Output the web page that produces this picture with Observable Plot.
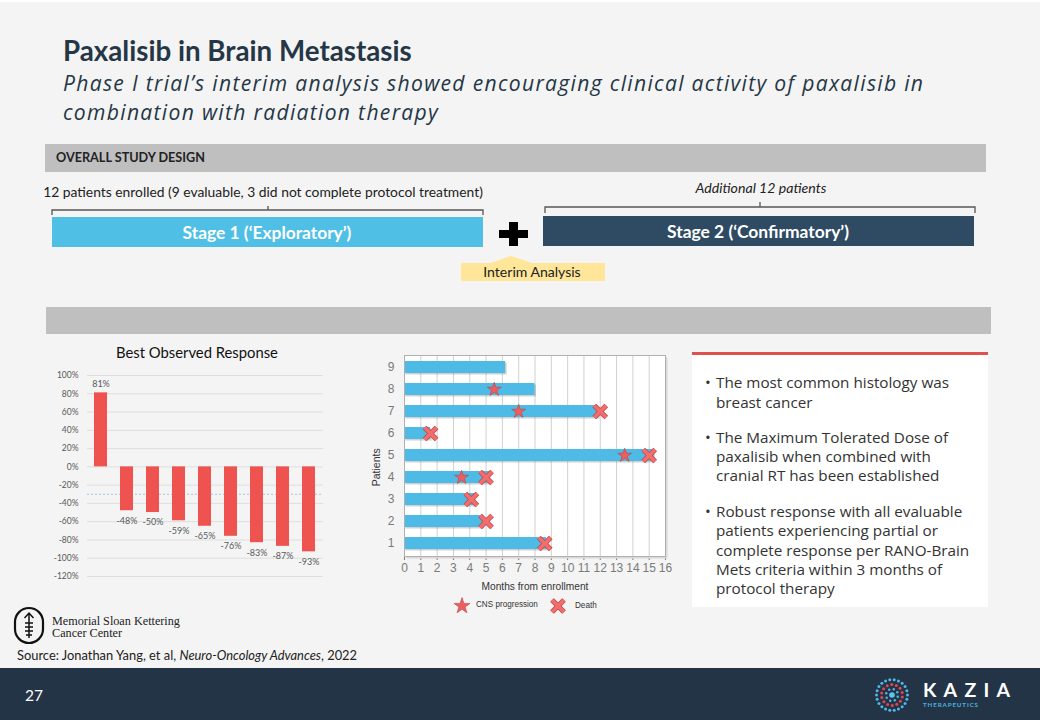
<!DOCTYPE html>
<html><head><meta charset="utf-8">
<script src="https://cdn.jsdelivr.net/npm/d3@7"></script>
<script src="https://cdn.jsdelivr.net/npm/@observablehq/plot@0.6"></script>
<style>
html,body{margin:0;padding:0;}
#slide{position:relative;width:1040px;height:720px;background:#f4f4f4;overflow:hidden;font-family:Lato,sans-serif;}
.t{position:absolute;white-space:nowrap;line-height:1;top:0;left:0;}
.layer{position:absolute;left:0;top:0;}
.chart{position:absolute;}
</style></head>
<body><div id="slide"></div>
<script>
// ---------- data ----------
const responsePatients = ["P1","P2","P3","P4","P5","P6","P7","P8","P9"];
const bestResponse = [81, -48, -50, -59, -65, -76, -83, -87, -93];
const responseTicks = [100, 80, 60, 40, 20, 0, -20, -40, -60, -80, -100, -120];
const thresholdLine = [-30];

const swimPatients = [9, 8, 7, 6, 5, 4, 3, 2, 1];
const monthsOnStudy = [6.2, 8.0, 11.9, 1.6, 15.3, 5.2, 4.3, 4.8, 8.7];
const cnsPatients = [8, 7, 5, 4];
const cnsMonths = [5.5, 7.0, 13.5, 3.5];
const deathPatients = [7, 6, 5, 4, 3, 2, 1];
const deathMonths = [12.0, 1.6, 15.0, 5.0, 4.1, 5.0, 8.6];
const monthTicks = [0,1,2,3,4,5,6,7,8,9,10,11,12,13,14,15,16];

// ---------- helpers ----------
const root = document.getElementById("slide");
const ctx = document.createElement("canvas").getContext("2d");
function fit(text, style, family, target){
  ctx.font = `${style} 100px ${family}`;
  return 100 * target / ctx.measureText(text).width;
}
function natural(text, style, size, family){
  ctx.font = `${style} ${size}px ${family}`;
  return ctx.measureText(text).width;
}
function addText(txt, o){
  const d = document.createElement("div");
  d.className = "t";
  if (o.html) d.innerHTML = txt; else d.textContent = txt;
  d.style.fontFamily = o.family || "Lato";
  d.style.fontSize = o.size + "px";
  d.style.fontWeight = o.weight || "normal";
  d.style.fontStyle = o.style || "normal";
  d.style.color = o.color || "#333";
  if (o.ls) d.style.letterSpacing = o.ls + "px";
  if (o.lh) d.style.lineHeight = o.lh + "px";
  root.appendChild(d);
  const r = d.getBoundingClientRect();
  const w = r.width - (o.ls || 0), h = r.height;
  let left = o.x;
  if (o.anchor === "middle") left = o.x - w/2;
  if (o.anchor === "end") left = o.x - w;
  if (o.rotate){
    d.style.left = (o.x - r.width/2) + "px";
    d.style.top = (o.y - h/2) + "px";
    d.style.transform = `rotate(${o.rotate}deg)`;
    return d;
  }
  d.style.left = left + "px";
  d.style.top = (o.top != null ? o.top : (o.y - (o.cy ?? 0.527) * o.size)) + "px";
  return d;
}

// ---------- decorative layer ----------
const svg = d3.select(root).append("svg").attr("class","layer").attr("width",1040).attr("height",720);
svg.append("rect").attr("x",0).attr("y",0).attr("width",1040).attr("height",2).attr("fill","#fff");
svg.append("rect").attr("x",45).attr("y",144).attr("width",941).attr("height",28).attr("fill","#bfbfbf");
svg.append("rect").attr("x",46).attr("y",307).attr("width",945).attr("height",27).attr("fill","#bfbfbf");
// brackets
svg.append("path").attr("d","M52,215V210H483V215M268,210V206").attr("fill","none").attr("stroke","#555").attr("stroke-width",1.3);
svg.append("path").attr("d","M545,213V207H975V213M760,207V202").attr("fill","none").attr("stroke","#555").attr("stroke-width",1.3);
// stage bars
svg.append("rect").attr("x",52).attr("y",217).attr("width",431).attr("height",30).attr("fill","#50bfe6");
svg.append("rect").attr("x",543).attr("y",216).attr("width",431).attr("height",30).attr("fill","#2f4b63");
// plus
svg.append("rect").attr("x",499).attr("y",230).attr("width",29).attr("height",8).attr("fill","#000");
svg.append("rect").attr("x",509).attr("y",222).attr("width",9).attr("height",24).attr("fill","#000");
// callout
svg.append("path").attr("d","M461,263H490L511,256L532,263H605V281H461Z").attr("fill","#ffe699");
// right panel
svg.append("rect").attr("x",692).attr("y",354).attr("width",296).attr("height",253).attr("fill","#fff");
svg.append("rect").attr("x",692).attr("y",352).attr("width",296).attr("height",3).attr("fill","#e0504c");
// footer
svg.append("rect").attr("x",0).attr("y",668).attr("width",1040).attr("height",52).attr("fill","#243447");
// MSK icon
svg.append("rect").attr("x",15).attr("y",608).attr("width",28).attr("height",35).attr("rx",14).attr("fill","none").attr("stroke","#111").attr("stroke-width",2.2);
svg.append("path").attr("d","M29,613V638M24.5,618L29,613L33.5,618M25,623H33M25,627H33M25,631H33M26,635H32").attr("fill","none").attr("stroke","#111").attr("stroke-width",1.5);
// Kazia logo dots
const kz = svg.append("g").attr("transform","translate(892,695)");
function ring(n, rad, dotR, col, off){
  for (let i=0;i<n;i++){
    const a = off + i*2*Math.PI/n;
    kz.append("circle").attr("cx",rad*Math.cos(a)).attr("cy",rad*Math.sin(a)).attr("r",dotR).attr("fill",col);
  }
}
ring(22, 15.5, 1.5, "#4fb8e6", 0);
ring(14, 10.5, 1.5, "#e2474f", 0.2);
ring(8, 6, 1.2, "#4fb8e6", 0.3);
kz.append("circle").attr("r",2.8).attr("fill","#5bc6ee");
// legend symbols for swimmer chart
svg.append("path").attr("transform","translate(462,606)").attr("d",d3.symbol(d3.symbolStar, 80)()).attr("fill","#f05d5d").attr("stroke","#b84444").attr("stroke-width",0.6);
svg.append("path").attr("transform","translate(558,606)").attr("d",d3.symbol(d3.symbolTimes, 95)()).attr("fill","none").attr("stroke","#c24848").attr("stroke-width",5.2);
svg.append("path").attr("transform","translate(558,606)").attr("d",d3.symbol(d3.symbolTimes, 95)()).attr("fill","none").attr("stroke","#f26d6d").attr("stroke-width",3.6);

// ---------- chart 1: best observed response ----------
const responseData = responsePatients.map((p,i)=>({patient:p, value:bestResponse[i]}));
const chart1 = Plot.plot({
  width: 300, height: 250,
  marginLeft: 47, marginRight: 17, marginTop: 35, marginBottom: 14,
  style: {background:"none", fontFamily:"Lato, sans-serif", fontSize:"8.5px", color:"#595959", overflow:"visible"},
  x: {domain: responsePatients, axis: null, paddingInner: 0.49, paddingOuter: 0.245},
  y: {domain: [-120, 100], ticks: responseTicks, tickFormat: d => d + "%", tickSize: 0, tickPadding: 9, label: null},
  marks: [
    Plot.ruleY(responseTicks, {stroke:"#dedede"}),
    Plot.ruleY(thresholdLine, {stroke:"#9fc5e0", strokeDasharray:"2,2"}),
    Plot.barY(responseData, {x:"patient", y:"value", fill:"#ef5350"}),
    Plot.text(responseData.filter(d=>d.value>=0), {x:"patient", y:"value", text:d=>d.value+"%", dy:-9, fontSize:9, fill:"#595959"}),
    Plot.text(responseData.filter(d=>d.value<0), {x:"patient", y:"value", text:d=>d.value+"%", dy:10, fontSize:9, fill:"#595959"})
  ]
});
chart1.classList.add("chart");
chart1.style.left = "40px"; chart1.style.top = "340px";
root.appendChild(chart1);

// ---------- chart 2: swimmer plot ----------
const swimData = swimPatients.map((p,i)=>({patient:p, months:monthsOnStudy[i]}));
const cnsData = cnsPatients.map((p,i)=>({patient:p, months:cnsMonths[i]}));
const deathData = deathPatients.map((p,i)=>({patient:p, months:deathMonths[i]}));
const chart2 = Plot.plot({
  width: 340, height: 270,
  marginLeft: 64, marginRight: 15, marginTop: 5, marginBottom: 64,
  style: {background:"none", fontFamily:"Liberation Sans, Arial, sans-serif", fontSize:"12px", color:"#7a7a7a", overflow:"visible"},
  x: {domain:[0,16], ticks: monthTicks, tickFormat: d => String(d), tickSize: 4, tickPadding: 3, label: null},
  y: {domain: swimPatients, paddingInner: 0.45, paddingOuter: 0.29, tickSize: 0, tickPadding: 10, label: null},
  marks: [
    Plot.frame({fill:"#d8d8d8", stroke:"none", dx:2, dy:2}),
    Plot.frame({fill:"#ffffff", stroke:"none"}),
    Plot.ruleX(monthTicks, {stroke:"#d0d0d0"}),
    Plot.barX(swimData, {x1:0, x2:"months", y:"patient", fill:"#7a7a7a", fillOpacity:0.35, dx:1.5, dy:1.5}),
    Plot.barX(swimData, {x1:0, x2:"months", y:"patient", fill:"#4dbbe5"}),
    Plot.dot(cnsData, {x:"months", y:"patient", symbol:"star", r:4.4, fill:"#f05d5d", stroke:"#b84444", strokeWidth:0.6}),
    Plot.dot(deathData, {x:"months", y:"patient", symbol:"times", r:5.5, stroke:"#c24848", strokeWidth:5.2}),
    Plot.dot(deathData, {x:"months", y:"patient", symbol:"times", r:5.5, stroke:"#f26d6d", strokeWidth:3.6}),
    Plot.frame({stroke:"#b0b0b0"})
  ]
});
chart2.classList.add("chart");
chart2.style.left = "340px"; chart2.style.top = "350px";
root.appendChild(chart2);

// ---------- texts ----------
const navy = "#253746";
const titleSize = fit("Paxalisib in Brain Metastasis", "bold", "Lato", 349);
addText("Paxalisib in Brain Metastasis", {x:63, y:52, size:titleSize, weight:"bold", color:navy});
const sub1 = "Phase I trial’s interim analysis showed encouraging clinical activity of paxalisib in";
const sub2 = "combination with radiation therapy";
const subFam = "'Open Sans'";
const subSize = 21.1;
const subLS = (860 - natural(sub1, "italic", subSize, subFam)) / (sub1.length - 1);
const subLH = 29;
// Open Sans metrics: ascent 1.069, descent 0.293, cap height 0.714
const subCapCenter = (subLH - 1.362*subSize)/2 + 1.069*subSize - 0.357*subSize;
addText(sub1, {x:63, top:82.7 - subCapCenter, size:subSize, lh:subLH, ls:subLS, style:"italic", family:subFam, color:navy});
addText(sub2, {x:63, top:82.7 + subLH - subCapCenter, size:subSize, lh:subLH, ls:subLS, style:"italic", family:subFam, color:navy});

addText("OVERALL STUDY DESIGN", {x:56, y:159, size:fit("OVERALL STUDY DESIGN","bold","Lato",150), weight:"bold", color:"#222"});
const enr = "12 patients enrolled (9 evaluable, 3 did not complete protocol treatment)";
addText(enr, {x:263, y:192, anchor:"middle", size:fit(enr,"normal","Lato",440), color:"#222"});
addText("Additional 12 patients", {x:761, y:188, anchor:"middle", size:fit("Additional 12 patients","italic","Lato",131), style:"italic", color:"#222"});
addText("Stage 1 (‘Exploratory’)", {x:267, y:233.5, anchor:"middle", size:fit("Stage 1 (‘Exploratory’)","bold","Lato",169), weight:"bold", color:"#fff"});
addText("Stage 2 (‘Confirmatory’)", {x:758, y:232, anchor:"middle", size:fit("Stage 2 (‘Confirmatory’)","bold","Lato",182), weight:"bold", color:"#fff"});
addText("Interim Analysis", {x:532, y:272, anchor:"middle", size:fit("Interim Analysis","normal","Lato",98), color:"#222"});

addText("Best Observed Response", {x:197, y:353, anchor:"middle", size:fit("Best Observed Response","normal","Lato",162), color:"#111"});

addText("Months from enrollment", {x:535, y:587, anchor:"middle", family:"Liberation Sans", cy:0.49, size:fit("Months from enrollment","normal","Liberation Sans",107), color:"#333"});
addText("Patients", {x:376, y:467, rotate:-90, family:"Liberation Sans", size:10.5, color:"#333"});
addText("CNS progression", {x:476, y:605, family:"Liberation Sans", cy:0.49, size:fit("CNS progression","normal","Liberation Sans",62), color:"#333"});
addText("Death", {x:575, y:605.5, family:"Liberation Sans", cy:0.49, size:fit("CNS progression","normal","Liberation Sans",62), color:"#333"});

// bullets
const bFam = "'Open Sans'";
const bulletSize = fit("The most common histology was", "normal", bFam, 233);
const bullets = [
  [["The most common histology was", 383], ["breast cancer", 403]],
  [["The Maximum Tolerated Dose of", 438], ["paxalisib when combined with", 457], ["cranial RT has been established", 476]],
  [["Robust response with all evaluable", 512], ["patients experiencing partial or", 531], ["complete response per RANO-Brain", 551], ["Mets criteria within 3 months of", 570], ["protocol therapy", 589]]
];
bullets.forEach(par => {
  addText("•", {x:705, y:par[0][1], size:bulletSize, family:bFam, cy:0.5, color:"#333"});
  par.forEach(([line, y]) => addText(line, {x:716, y, size:bulletSize, family:bFam, cy:0.5, color:"#333"}));
});

// MSK + source
const mskSize = fit("Memorial Sloan Kettering", "normal", "Liberation Serif", 128);
addText("Memorial Sloan Kettering", {x:52, y:621.5, size:mskSize, family:"Liberation Serif", cy:0.51, color:"#222"});
addText("Cancer Center", {x:52, y:633.5, size:mskSize, family:"Liberation Serif", cy:0.51, color:"#222"});
const srcPlain = "Source: Jonathan Yang, et al, Neuro-Oncology Advances, 2022";
addText("Source: Jonathan Yang, et al, <i>Neuro-Oncology Advances</i>, 2022", {html:true, x:17, y:656, size:fit(srcPlain,"normal","Lato",352), color:"#222"});

// footer
addText("27", {x:25, y:696, size:fit("27","normal","Lato",18), color:"#fff"});
const kSize = 19.5;
const kNat = natural("KAZIA","bold",kSize,"Lato");
addText("KAZIA", {x:923, y:690, size:kSize, weight:"bold", color:"#fff", ls:(87-kNat)/4});
const tSize = 6.2;
const tNat = natural("THERAPEUTICS","bold",tSize,"Lato");
addText("THERAPEUTICS", {x:923, y:705, size:tSize, weight:"bold", color:"#4ab2e0", ls:(55-tNat)/11});
</script>
</body></html>
